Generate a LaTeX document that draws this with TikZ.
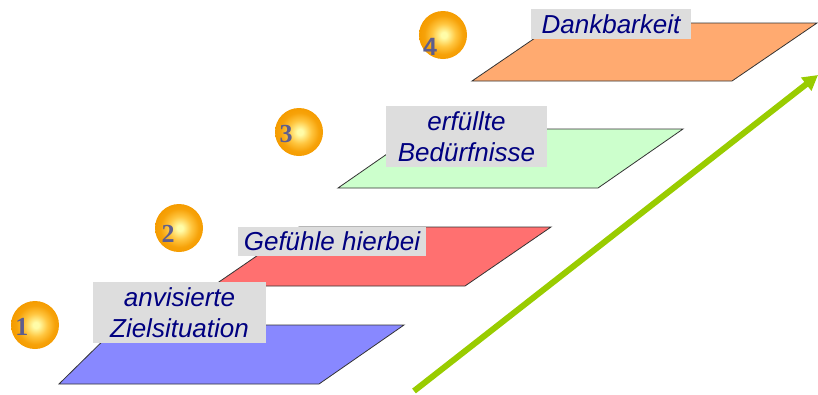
\documentclass[tikz,border=0pt]{standalone}
\usepackage{fontspec}
\setmainfont{Liberation Sans}
\newfontfamily\digitserif{Liberation Serif}
\usetikzlibrary{arrows.meta}

\definecolor{planeblue}{HTML}{8888FF}
\definecolor{planered}{HTML}{FF7070}
\definecolor{planegreen}{HTML}{CCFFCC}
\definecolor{planeorange}{HTML}{FFAA70}
\definecolor{tagfill}{HTML}{DDDDDD}
\definecolor{tagtext}{HTML}{000080}
\definecolor{ballcore}{HTML}{FFFCA8}
\definecolor{ballmid}{HTML}{FFC640}
\definecolor{ballrim}{HTML}{F59C00}
\definecolor{digitcol}{HTML}{5E5E8E}
\definecolor{risegreen}{HTML}{99CC00}

% orange sphere with a soft yellow centre
\pgfdeclareradialshading{orb}{\pgfpoint{1bp}{0bp}}{%
  color(0bp)=(ballcore); color(3bp)=(ballcore); color(12bp)=(ballmid);
  color(20bp)=(ballrim!85!ballmid); color(25bp)=(ballrim); color(50bp)=(ballrim)}

\tikzset{
  plane/.style={draw=black!80, line width=0.8pt},
  tag/.style={fill=tagfill, text=tagtext, inner sep=0pt, align=center,
    font=\itshape\fontsize{26}{31}\selectfont},
  orbnum/.style={text=digitcol, inner sep=0pt, font=\bfseries\fontsize{25}{25}\selectfont},
  serifnum/.style={orbnum, font=\digitserif\bfseries\fontsize{26}{26}\selectfont},
  rise/.style={draw=risegreen, line width=6pt,
    -{Triangle[length=15pt,width=16pt]}}
}

\begin{document}
\begin{tikzpicture}[x=1pt,y=-1pt]
\useasboundingbox (0,0) rectangle (818,394);

% stacked levels
\draw[plane, fill=planeblue]   (59,384)  -- (319,384) -- (404,325) -- (119,325) -- cycle;
\draw[plane, fill=planered]    (213,286) -- (465,286) -- (551,227) -- (299,227) -- cycle;
\draw[plane, fill=planegreen]  (338,188) -- (598,188) -- (683,129) -- (423,129) -- cycle;
\draw[plane, fill=planeorange] (472,81)  -- (732,81)  -- (817,23)  -- (557,23)  -- cycle;

% labels
\node[tag, minimum width=173, minimum height=61] (t1) at (179.5,312.5) {anvisierte\\Zielsituation};
\node[tag, minimum width=188, minimum height=29] (t2) at (332,241.5) {Gefühle hierbei};
\node[tag, minimum width=161, minimum height=61] (t3) at (466.5,136.5) {erfüllte\\Bedürfnisse};
\node[tag, minimum width=160, minimum height=30] (t4) at (611,24) {Dankbarkeit};

% numbered spheres
\foreach \cx/\cy in {35/325, 179/228, 299/132, 443/35}
  \shade[shading=orb] (\cx,\cy) circle[radius=24];
\node[serifnum] (n1) at (22,327) {1};
\node[serifnum] (n2) at (168,234) {2};
\node[serifnum] (n3) at (286,134) {3};
\node[orbnum] (n4) at (430,47) {4};

% rising arrow
\coordinate (r0) at (414,391);
\coordinate (r1) at (818,75);
\draw[rise] (r0) -- (r1);
\end{tikzpicture}
\end{document}
